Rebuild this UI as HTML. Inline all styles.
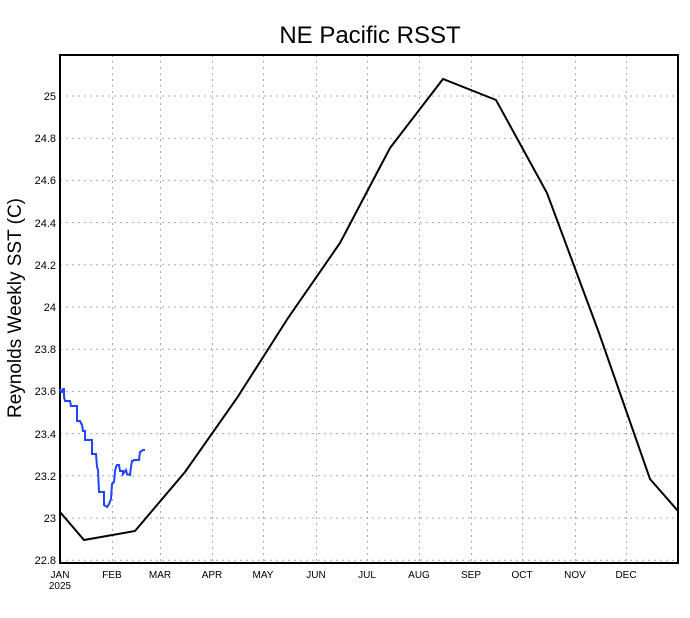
<!DOCTYPE html>
<html><head><style>body{margin:0;background:#fff}svg{display:block}</style></head><body>
<svg width="690" height="618" xmlns="http://www.w3.org/2000/svg" font-family="Liberation Sans, sans-serif">
<rect width="690" height="618" fill="#fff"/>
<g stroke="#aaa" stroke-width="1" stroke-dasharray="2,4">
<line x1="60" y1="96" x2="678" y2="96"/><line x1="60" y1="138.2" x2="678" y2="138.2"/><line x1="60" y1="180.4" x2="678" y2="180.4"/><line x1="60" y1="222.6" x2="678" y2="222.6"/><line x1="60" y1="264.8" x2="678" y2="264.8"/><line x1="60" y1="307" x2="678" y2="307"/><line x1="60" y1="349.2" x2="678" y2="349.2"/><line x1="60" y1="391.4" x2="678" y2="391.4"/><line x1="60" y1="433.6" x2="678" y2="433.6"/><line x1="60" y1="475.8" x2="678" y2="475.8"/><line x1="60" y1="518" x2="678" y2="518"/><line x1="60" y1="560.2" x2="678" y2="560.2"/>
<line x1="112.5" y1="55" x2="112.5" y2="563"/><line x1="160.5" y1="55" x2="160.5" y2="563"/><line x1="212.5" y1="55" x2="212.5" y2="563"/><line x1="263.5" y1="55" x2="263.5" y2="563"/><line x1="316.5" y1="55" x2="316.5" y2="563"/><line x1="367.5" y1="55" x2="367.5" y2="563"/><line x1="419.5" y1="55" x2="419.5" y2="563"/><line x1="471.5" y1="55" x2="471.5" y2="563"/><line x1="522.5" y1="55" x2="522.5" y2="563"/><line x1="575.5" y1="55" x2="575.5" y2="563"/><line x1="626.5" y1="55" x2="626.5" y2="563"/>
</g>
<rect x="60" y="55" width="618" height="508" fill="none" stroke="#000" stroke-width="2"/>
<polyline fill="none" stroke="#000" stroke-width="2" points="60,512 84,540 135,531 185,472 237,398 288,318 340,243 390,148 443,79 496,100 547,193 599,333 650,479 678,511"/>
<polyline fill="none" stroke="#2244ff" stroke-width="2" points="60,389 61,392 62,392 63,389 64,389 64,397 65,401 70,401 71,406 77,406 77,421 80,421 82,425 83,431 85,431 85,440 88,440 92,440 92,454 96,454 97,467 98,470 99,492 104,492 104,505 107,507 109,504 111,499 112,484 114,482 115,471 116,467 117,465 119,465 120,471 123,471 123,474 126,470 127,474 130,475 131,467 132,461 133,461 134,460 139,460 140,452 143,450 145,450"/>
<g font-size="11" text-anchor="end" fill="#000">
<text x="56" y="100">25</text><text x="56" y="142">24.8</text><text x="56" y="184">24.6</text><text x="56" y="227">24.4</text><text x="56" y="269">24.2</text><text x="56" y="311">24</text><text x="56" y="353">23.8</text><text x="56" y="395">23.6</text><text x="56" y="438">23.4</text><text x="56" y="480">23.2</text><text x="56" y="522">23</text><text x="56" y="564">22.8</text>
</g>
<g font-size="10" text-anchor="middle" fill="#000">
<text x="60" y="578">JAN</text><text x="60" y="589">2025</text><text x="112" y="578">FEB</text><text x="160" y="578">MAR</text><text x="212" y="578">APR</text><text x="263" y="578">MAY</text><text x="316" y="578">JUN</text><text x="367" y="578">JUL</text><text x="419" y="578">AUG</text><text x="471" y="578">SEP</text><text x="522" y="578">OCT</text><text x="575" y="578">NOV</text><text x="626" y="578">DEC</text>
</g>
<text x="370" y="43" font-size="24" text-anchor="middle">NE Pacific RSST</text>
<text transform="translate(21,308) rotate(-90)" font-size="19" text-anchor="middle">Reynolds Weekly SST (C)</text>
</svg>
</body></html>
